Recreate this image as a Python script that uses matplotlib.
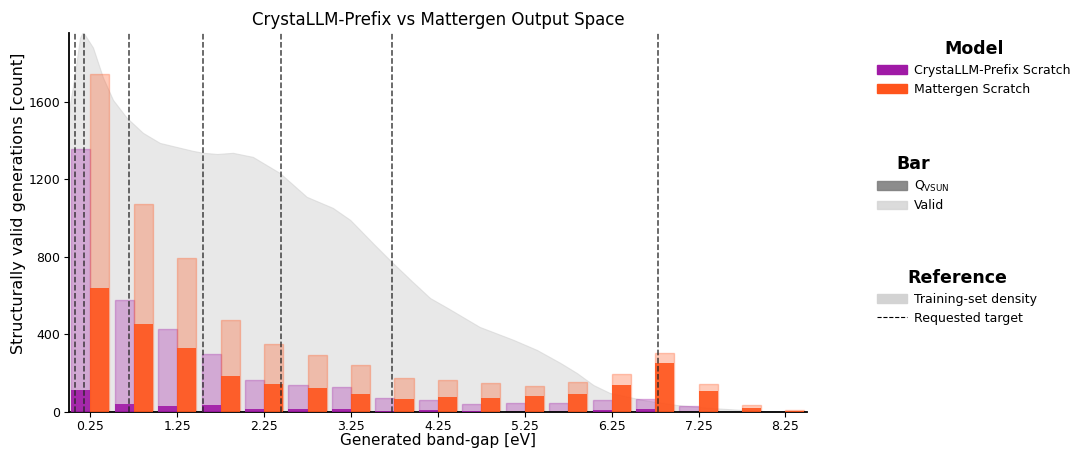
import numpy as np
import matplotlib
matplotlib.use("Agg")
import matplotlib.pyplot as plt
from matplotlib.patches import Patch
from matplotlib.lines import Line2D

# band-gap bin centres [eV]
bin_centres = [0.25, 0.75, 1.25, 1.75, 2.25, 2.75, 3.25, 3.75, 4.25,
               4.75, 5.25, 5.75, 6.25, 6.75, 7.25, 7.75, 8.25]

# structurally valid counts per bin
crysta_valid = [1355, 580, 427, 300, 163, 137, 130, 70, 60,
                40, 48, 46, 63, 69, 29, 0, 0]
matter_valid = [1745, 1074, 793, 473, 350, 292, 245, 177, 166,
                149, 134, 153, 196, 302, 144, 34, 10]

# Q_VSUN counts per bin
crysta_q = [113, 40, 31, 34, 15, 14, 14, 5, 10,
            3, 2, 2, 10, 15, 2, 0, 0]
matter_q = [642, 453, 329, 185, 142, 123, 93, 67, 79,
            72, 81, 91, 137, 252, 106, 21, 7]

# requested band-gap targets [eV]
targets = [0.07, 0.18, 0.69, 1.55, 2.44, 3.72, 6.78]

# training-set density (scaled to counts)
density_x = [0.0, 0.015, 0.072, 0.13, 0.165, 0.28, 0.395, 0.51, 0.67, 0.855,
             1.05, 1.43, 1.55, 1.71, 1.89, 2.12, 2.43, 2.74, 3.04, 3.24,
             3.50, 3.73, 3.96, 4.16, 4.36, 4.73, 5.12, 5.39, 5.66, 5.85,
             6.04, 6.23, 6.61, 7.0, 7.38, 7.96, 8.5]
density_y = [1500, 1585, 1745, 1930, 1960, 1880, 1725, 1610, 1517, 1440,
             1388, 1347, 1337, 1331, 1337, 1316, 1233, 1110, 1053, 991,
             872, 769, 671, 588, 537, 439, 372, 320, 253, 201,
             139, 98, 62, 36, 21, 5, 0]

purple = "#a01aa6"
orange = "#ff541c"
bar_w = 0.22

fig = plt.figure(figsize=(10.78, 4.49), dpi=100)
ax = fig.add_axes([0.0637, 0.0824, 0.685, 0.8441])

ax.fill_between(density_x, density_y, color="lightgray", alpha=0.5,
                edgecolor="#cccccc", linewidth=0.8, zorder=0)

x = np.array(bin_centres)
ax.bar(x - bar_w / 2, crysta_valid, bar_w, color=purple, alpha=0.3,
       edgecolor=purple, linewidth=1, zorder=2)
ax.bar(x + bar_w / 2, matter_valid, bar_w, color=orange, alpha=0.3,
       edgecolor=orange, linewidth=1, zorder=2)
ax.bar(x - bar_w / 2, crysta_q, bar_w, color=purple, alpha=0.9, zorder=3)
ax.bar(x + bar_w / 2, matter_q, bar_w, color=orange, alpha=0.9, zorder=3)

for t in targets:
    ax.axvline(t, color="#222222", linestyle="--", linewidth=1.1, alpha=0.85, zorder=4)

ax.set_xlim(0, 8.5)
ax.set_ylim(0, 1955)
ax.set_xticks(bin_centres[::2])
ax.set_yticks([0, 400, 800, 1200, 1600])
ax.tick_params(labelsize=9, pad=2.5)
ax.spines["top"].set_visible(False)
ax.spines["right"].set_visible(False)
ax.spines["left"].set_linewidth(1.3)
ax.spines["bottom"].set_linewidth(1.3)

ax.set_title("CrystaLLM-Prefix vs Mattergen Output Space", fontsize=12)
ax.set_xlabel("Generated band-gap [eV]", fontsize=11, labelpad=0)
ax.set_ylabel("Structurally valid generations [count]", fontsize=11.5)
ax.yaxis.set_label_coords(-0.058, 0.55)

# three stacked legends on the right
model_handles = [Patch(color=purple, label="CrystaLLM-Prefix Scratch"),
                 Patch(color=orange, label="Mattergen Scratch")]
bar_handles = [Patch(color="grey", alpha=0.9, label=r"Q$_{\mathrm{VSUN}}$"),
               Patch(color="lightgray", alpha=0.8, label="Valid")]
ref_handles = [Patch(color="lightgray", label="Training-set density"),
               Line2D([], [], color="black", linestyle="--", linewidth=0.8,
                      label="Requested target")]

leg_kw = dict(loc="upper left", frameon=False, fontsize=9,
              title_fontproperties={"weight": "bold", "size": 12.5},
              handlelength=2.4, handletextpad=0.6, labelspacing=0.45)
fig.legend(handles=model_handles, title="Model",
           bbox_to_anchor=(0.803, 0.935), **leg_kw)
fig.legend(handles=bar_handles, title="Bar",
           bbox_to_anchor=(0.803, 0.68), **leg_kw)
fig.legend(handles=ref_handles, title="Reference",
           bbox_to_anchor=(0.803, 0.425), **leg_kw)

fig.savefig("out.png", dpi=100)
